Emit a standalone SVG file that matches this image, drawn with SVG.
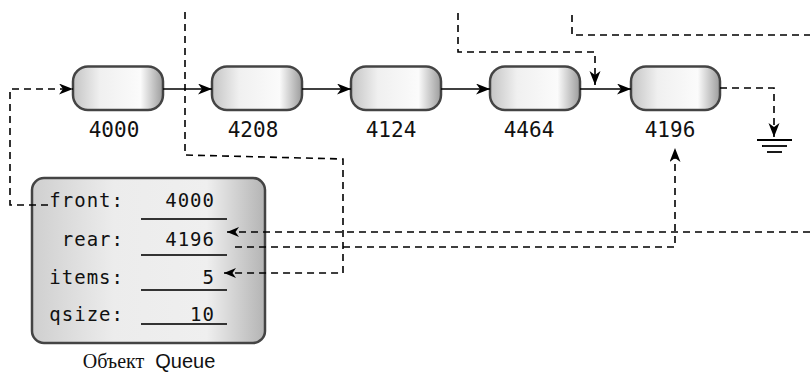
<svg xmlns="http://www.w3.org/2000/svg" width="810" height="372" viewBox="0 0 810 372">
<defs>
<linearGradient id="ng" x1="0" y1="0" x2="1" y2="0">
<stop offset="0" stop-color="#c4c4c4"/>
<stop offset="0.3" stop-color="#f0f0f0"/>
<stop offset="0.75" stop-color="#fbfbfb"/>
<stop offset="1" stop-color="#9c9c9c"/>
</linearGradient>
<linearGradient id="qg" x1="0" y1="0" x2="1" y2="0">
<stop offset="0" stop-color="#cfcfcf"/>
<stop offset="0.35" stop-color="#ececec"/>
<stop offset="0.75" stop-color="#efefef"/>
<stop offset="1" stop-color="#b4b4b4"/>
</linearGradient>
<marker id="ah" markerUnits="userSpaceOnUse" markerWidth="16" markerHeight="12" refX="14" refY="5.5" orient="auto">
<path d="M0,0 L14,5.5 L0,11 L4,5.5 z" fill="#000"/>
</marker>
<marker id="as" markerUnits="userSpaceOnUse" markerWidth="14" markerHeight="12" refX="12" refY="5" orient="auto">
<path d="M0,0 L12,5 L0,10 L3.5,5 z" fill="#000"/>
</marker>
</defs>
<style>
.node{fill:url(#ng);stroke:#444;stroke-width:2.5}
.lbl{font-family:"DejaVu Sans Mono","Liberation Mono",monospace;font-size:21px;fill:#111;text-anchor:middle}
.fld{font-family:"DejaVu Sans Mono","Liberation Mono",monospace;font-size:19px;fill:#111;text-anchor:end;letter-spacing:1px}
.solid{fill:none;stroke:#000;stroke-width:1.6}
.dash{fill:none;stroke:#000;stroke-width:1.6;stroke-dasharray:7 5}
.ul{stroke:#333;stroke-width:2}
.gnd{stroke:#000;stroke-width:1.8}
</style>

<g id="node-4000">
<rect class="node" x="73" y="66.5" width="90" height="43.5" rx="15"/>
<text class="lbl" x="114" y="137">4000</text>
</g>
<g id="node-4208">
<rect class="node" x="212" y="66.5" width="90" height="43.5" rx="15"/>
<text class="lbl" x="253" y="137">4208</text>
</g>
<g id="node-4124">
<rect class="node" x="351" y="66.5" width="90" height="43.5" rx="15"/>
<text class="lbl" x="391" y="137">4124</text>
</g>
<g id="node-4464">
<rect class="node" x="490" y="66.5" width="90" height="43.5" rx="15"/>
<text class="lbl" x="529" y="137">4464</text>
</g>
<g id="node-4196">
<rect class="node" x="631" y="66.5" width="89" height="43.5" rx="15"/>
<text class="lbl" x="670" y="137">4196</text>
</g>

<g id="queue">
<rect x="32" y="178" width="233" height="165" rx="12" fill="url(#qg)" stroke="#444" stroke-width="2.5"/>
<text class="fld" x="124" y="207">front:</text>
<text class="fld" x="215" y="207">4000</text>
<line class="ul" x1="141" y1="219" x2="227" y2="219"/>
<text class="fld" x="124" y="246">rear:</text>
<text class="fld" x="215" y="246">4196</text>
<line class="ul" x1="141" y1="255" x2="227" y2="255"/>
<text class="fld" x="124" y="284">items:</text>
<text class="fld" x="215" y="284">5</text>
<line class="ul" x1="141" y1="290" x2="227" y2="290"/>
<text class="fld" x="124" y="321">qsize:</text>
<text class="fld" x="215" y="321">10</text>
<line class="ul" x1="141" y1="324" x2="227" y2="324"/>
<text x="149" y="368" text-anchor="middle" font-size="20" fill="#111"><tspan font-family="'Liberation Serif',serif">Объект</tspan><tspan font-family="'Liberation Sans Narrow','Liberation Sans',sans-serif" dx="11">Queue</tspan></text>
</g>

<g id="connectors">
<path class="solid" d="M163 89 H212" marker-end="url(#ah)"/>
<path class="solid" d="M302 89 H351" marker-end="url(#ah)"/>
<path class="solid" d="M441 89 H490" marker-end="url(#ah)"/>
<path class="solid" d="M580 89 H631" marker-end="url(#ah)"/>
<path class="dash" d="M48 205 H10 V89 H73" marker-end="url(#ah)"/>
<path class="dash" d="M185 12 V155 L343 159 V273 H224" marker-end="url(#as)"/>
<path class="dash" d="M458 13 V52 H595 V85" marker-end="url(#ah)"/>
<path class="dash" d="M572 15 V35 H810"/>
<path class="dash" d="M720 88 H774 V137" marker-end="url(#ah)"/>
<path class="dash" d="M810 232 H227" marker-end="url(#as)"/>
<path class="dash" d="M235 247 H675 V148" marker-end="url(#ah)"/>
<line class="gnd" x1="757" y1="140" x2="792" y2="140"/>
<line class="gnd" x1="762" y1="146" x2="787" y2="146"/>
<line class="gnd" x1="767" y1="152" x2="782" y2="152"/>
</g>
</svg>
